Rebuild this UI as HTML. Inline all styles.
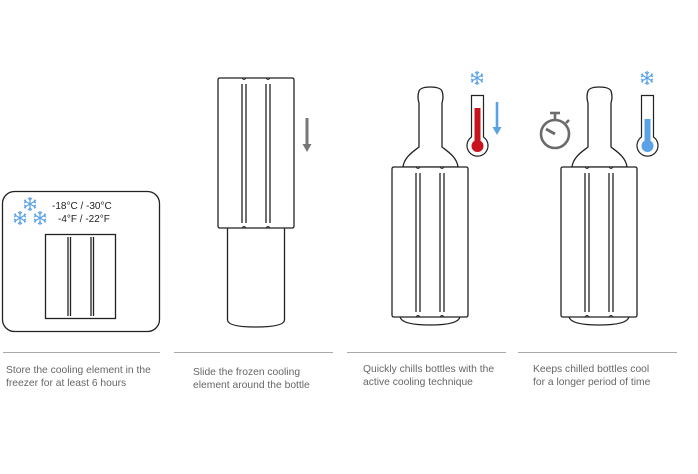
<!DOCTYPE html>
<html><head><meta charset="utf-8"><style>
html,body{margin:0;padding:0;background:#fff;width:698px;height:474px;overflow:hidden}
svg{display:block}
text{font-family:"Liberation Sans",sans-serif}
</style></head><body>
<svg width="698" height="474" viewBox="0 0 698 474" xmlns="http://www.w3.org/2000/svg">
<defs>
<g id="sleeve" fill="none" stroke="#222" stroke-width="1.3">
  <path d="M2,0 L74,0 Q76,0 76,2 L76,148 Q76,150 74,150 L2,150 Q0,150 0,148 L0,2 Q0,0 2,0 Z" fill="#fff"/>
  <line x1="24" y1="6" x2="24" y2="145"/><line x1="28" y1="6" x2="28" y2="145"/>
  <line x1="48" y1="6" x2="48" y2="145"/><line x1="52" y1="6" x2="52" y2="145"/>
  <path d="M24,0 Q26,3 28,0 M48,0 Q50,3 52,0 M24,150 Q26,147 28,150 M48,150 Q50,147 52,150" stroke-width="1"/>
</g>
<g id="flake" stroke="#5aa2e6" stroke-width="1.2" fill="none">
  <line x1="0" y1="-7" x2="0" y2="7"/><line x1="-6" y1="-3.5" x2="6" y2="3.5"/><line x1="-6" y1="3.5" x2="6" y2="-3.5"/>
  <path d="M-2,-6 L0,-4 L2,-6 M-2,6 L0,4 L2,6 M-6,-1 L-4,-2 L-5,-4.5 M6,1 L4,2 L5,4.5 M-6,1 L-4,2 L-5,4.5 M6,-1 L4,-2 L5,-4.5"/>
</g>
<g id="bottle" fill="#fff" stroke="#222" stroke-width="1.3">
  <path d="M11,0 C12,-10 22,-16 27,-20 L27,-64 Q25,-70 27,-76 Q29,-80 38,-80 Q48,-80 50,-76 Q52,-70 50,-64 L50,-20 C55,-16 65,-10 66,0 Z"/>
  <path d="M8,150 Q10,158 38,158 Q66,158 68,150" fill="none"/>
</g>
</defs>

<rect x="2.5" y="191.5" width="157" height="140" rx="12" fill="none" stroke="#222" stroke-width="1.3"/>
<use href="#flake" x="30" y="204"/>
<use href="#flake" x="20" y="218"/>
<use href="#flake" x="40" y="218"/>
<text x="52" y="209" font-size="10" fill="#222">-18°C / -30°C</text>
<text x="58" y="222" font-size="10" fill="#222">-4°F / -22°F</text>
<g fill="none" stroke="#222" stroke-width="1.3">
  <rect x="45.5" y="234.5" width="70" height="84"/>
  <line x1="68" y1="237" x2="68" y2="316"/><line x1="70.5" y1="237" x2="70.5" y2="316"/>
  <line x1="91" y1="237" x2="91" y2="316"/><line x1="93.5" y1="237" x2="93.5" y2="316"/>
</g>

<path d="M227.5,228 L227.5,320 Q228,327 256,327 Q284,327 284.5,320 L284.5,228" fill="#fff" stroke="#222" stroke-width="1.3"/>
<use href="#sleeve" x="218" y="78"/>
<line x1="307" y1="118" x2="307" y2="145" stroke="#777" stroke-width="3"/>
<path d="M302.5,144 L311.5,144 L307,152 Z" fill="#777"/>

<use href="#bottle" x="392" y="167"/>
<use href="#sleeve" x="392" y="167"/>
<use href="#flake" x="477" y="78"/>
<g>
  <path d="M471.5,95.5 L483.5,95.5 L483.5,137 A10.5,10.5 0 1 1 471.5,137 Z" fill="#fff" stroke="#222" stroke-width="1.2"/>
  <rect x="474.5" y="108" width="6" height="34" fill="#c8141e"/>
  <circle cx="477.5" cy="146" r="6" fill="#c8141e"/>
</g>
<line x1="497" y1="102" x2="497" y2="128" stroke="#5aa2e6" stroke-width="2.6"/>
<path d="M492.5,127 L501.5,127 L497,135 Z" fill="#5aa2e6"/>

<use href="#bottle" x="561" y="167"/>
<use href="#sleeve" x="561" y="167"/>
<use href="#flake" x="647" y="78"/>
<g>
  <path d="M641.5,95.5 L653.5,95.5 L653.5,137 A10.5,10.5 0 1 1 641.5,137 Z" fill="#fff" stroke="#222" stroke-width="1.2"/>
  <rect x="644.5" y="119" width="6" height="24" fill="#5aa2e6"/>
  <circle cx="647.5" cy="146" r="6" fill="#5aa2e6"/>
</g>
<g stroke="#6b6b6b" fill="none" stroke-width="2.6">
  <circle cx="555" cy="134" r="14"/>
  <line x1="555" y1="120" x2="555" y2="114"/>
  <line x1="550" y1="113" x2="560" y2="113"/>
  <line x1="566" y1="123" x2="569" y2="120"/>
  <line x1="546" y1="129" x2="555" y2="134" stroke-width="3"/>
</g>

<g stroke="#aaa" stroke-width="1">
  <line x1="3" y1="352.5" x2="160" y2="352.5"/>
  <line x1="174" y1="352.5" x2="333" y2="352.5"/>
  <line x1="347" y1="352.5" x2="506" y2="352.5"/>
  <line x1="518" y1="352.5" x2="677" y2="352.5"/>
</g>
<g font-size="10.3" fill="#666">
  <text x="6" y="373">Store the cooling element in the</text>
  <text x="6" y="386">freezer for at least 6 hours</text>
  <text x="193" y="375">Slide the frozen cooling</text>
  <text x="193" y="388">element around the bottle</text>
  <text x="363" y="372">Quickly chills bottles with the</text>
  <text x="363" y="385">active cooling technique</text>
  <text x="533" y="372">Keeps chilled bottles cool</text>
  <text x="533" y="385">for a longer period of time</text>
</g>
</svg>
</body></html>
